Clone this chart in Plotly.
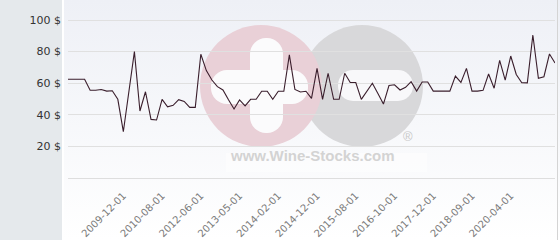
import base64
import plotly.graph_objects as go

# ---- data ----
prices = [62.5, 62.5, 62.5, 62.5, 55.5, 55.5, 56, 55, 55.2, 49.8,
          29.3, 55, 80, 42.4, 54.6, 37.1, 36.7, 49.8, 45, 46,
          49.6, 48.5, 44.7, 44.7, 78.3, 68, 62, 57.8, 55.7, 49.5,
          43.7, 49.4, 45.6, 49.8, 49.8, 54.9, 54.9, 49.8, 54.9, 54.9,
          77.9, 56.1, 54.4, 54.9, 50.4, 69.4, 49.8, 66.3, 49.8, 49.8,
          66.3, 60.5, 60.4, 49.8, 55, 60, 53.5, 46.8, 58.5, 59,
          55.7, 57.4, 61, 55, 60.8, 60.8, 55, 55, 55, 55,
          64.5, 60.5, 69.4, 55, 55, 55.5, 65.8, 56.8, 74.5, 62,
          77.2, 65.5, 60.3, 60.2, 90.5, 63.1, 64.1, 78.5, 72.8]
x_index = list(range(len(prices)))
date_labels = ["2009-12-01", "2010-08-01", "2012-06-01", "2013-05-01", "2014-02-01",
               "2014-12-01", "2015-08-01", "2016-10-01", "2017-12-01", "2018-09-01",
               "2020-04-01"]
label_positions = [10, 17, 24, 31, 38, 45, 52, 59, 66, 73, 80]
y_ticks = [20, 40, 60, 80, 100]
y_tick_labels = ["20 $", "40 $", "60 $", "80 $", "100 $"]

# ---- layout geometry (pixels) ----
W, H = 560, 240
L, R, T, B = 68, 5, 2, 62
PW, PH = W - L - R, H - T - B


def px(xp):
    return (xp - L) / PW


def py(yp):
    return (H - B - yp) / PH


svg = '''<svg xmlns="http://www.w3.org/2000/svg" width="560" height="240" viewBox="0 0 560 240" preserveAspectRatio="none">
<defs><linearGradient id="g" x1="0" y1="0" x2="0" y2="1">
<stop offset="0" stop-color="#eef0f6"/><stop offset="1" stop-color="#ffffff"/></linearGradient></defs>
<rect x="0" y="0" width="62" height="240" fill="#e5e9ec"/>
<rect x="62" y="0" width="2" height="240" fill="#ffffff"/>
<rect x="64" y="0" width="496" height="240" fill="url(#g)"/>
<circle cx="362" cy="86" r="61" fill="#d8d8da"/>
<circle cx="261" cy="86" r="61" fill="#e9d0d7"/>
<rect x="250" y="38" width="33" height="95" rx="16" fill="#fbfbfc"/>
<rect x="211" y="70" width="97" height="34" rx="16" fill="#fbfbfc"/>
<rect x="338" y="70" width="75" height="31" rx="15" fill="#f8f8fa"/>
<rect x="226" y="153" width="201" height="19" fill="#ffffff" fill-opacity="0.45"/>
<rect x="557" y="0" width="1" height="240" fill="#d4d4d4"/>
</svg>'''
bg_src = "data:image/svg+xml;base64," + base64.b64encode(svg.encode()).decode()

fig = go.Figure()
fig.add_trace(go.Scatter(x=x_index, y=prices, mode="lines",
                         line=dict(color="#3a1e2c", width=1.1),
                         hoverinfo="skip", showlegend=False))

fig.add_layout_image(dict(source=bg_src, xref="paper", yref="paper",
                          x=px(0), y=py(0), sizex=W / PW, sizey=H / PH,
                          xanchor="left", yanchor="top", sizing="stretch",
                          layer="below"))

fig.add_annotation(x=px(312), y=py(166), xref="paper", yref="paper",
                   text="<b>www.Wine-Stocks.com</b>", showarrow=False,
                   font=dict(family="Liberation Sans, Arial", size=15, color="#d3d3d3"))
fig.add_annotation(x=px(415), y=py(146), xref="paper", yref="paper",
                   text="®", showarrow=False,
                   font=dict(family="Liberation Sans, Arial", size=13, color="#c8c8c8"))

fig.update_layout(
    width=W, height=H,
    margin=dict(l=L, r=R, t=T, b=B, pad=0),
    paper_bgcolor="#ffffff",
    plot_bgcolor="rgba(0,0,0,0)",
    showlegend=False,
    xaxis=dict(range=[0, len(prices) - 1], tickmode="array",
               tickvals=label_positions, ticktext=date_labels,
               tickangle=-45, showgrid=False, zeroline=False,
               showline=True, linecolor="#dedede", linewidth=1,
               ticks="", ticklabelstandoff=7,
               tickfont=dict(family="DejaVu Sans", size=10, color="#7a7a7a")),
    yaxis=dict(range=[0, 111.4], tickmode="array", tickvals=y_ticks,
               ticktext=y_tick_labels, showgrid=True, gridcolor="#e0e0e0",
               gridwidth=1, zeroline=False, ticks="", ticklabelstandoff=6,
               tickfont=dict(family="DejaVu Sans", size=11, color="#333333")),
)

fig.write_html("out.html")
